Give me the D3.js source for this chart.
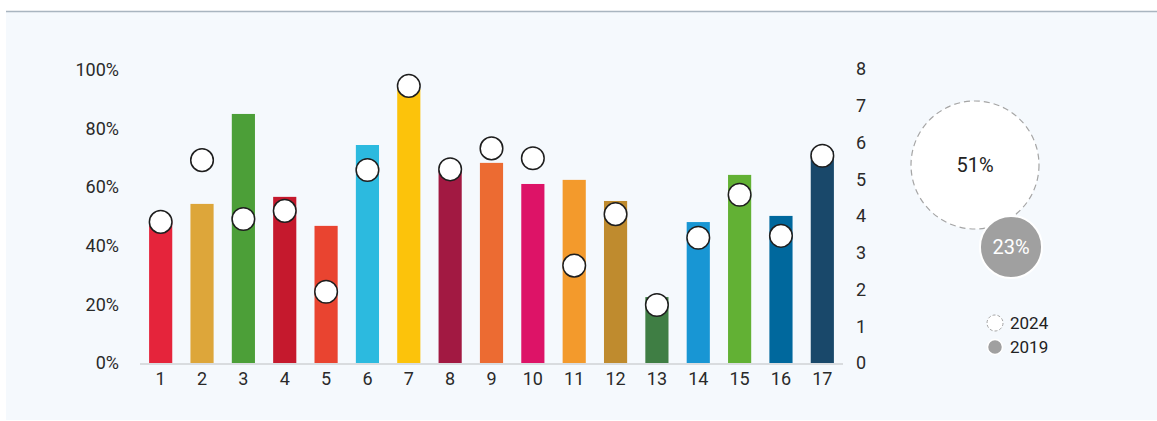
<!DOCTYPE html>
<html><head><meta charset="utf-8">
<script src="https://cdn.jsdelivr.net/npm/d3@7"></script>
<style>html,body{margin:0;padding:0;background:#fff;}svg{display:block;font-family:Roboto,"Noto Sans",sans-serif;}</style>
</head><body>
<svg id="chart" width="1157" height="421"></svg>
<script>
const categories = ["1","2","3","4","5","6","7","8","9","10","11","12","13","14","15","16","17"];
const barValues = [0.488,0.543,0.85,0.567,0.468,0.744,0.935,0.66,0.683,0.611,0.625,0.553,0.225,0.481,0.642,0.502,0.724];
const dotValues = [3.84,5.52,3.92,4.14,1.94,5.25,7.54,5.27,5.84,5.57,2.65,4.05,1.58,3.41,4.58,3.46,5.64];
const barColors = ["#e5243b","#dda63a","#4c9f38","#c5192d","#e94430","#2cbadf","#fcc30b","#a21942","#ec6b32","#dd1367","#f39a2c","#bf8b2e","#3f7e44","#1896d4","#62b134","#00689d","#19486a"];
const leftTicks = [0,0.2,0.4,0.6,0.8,1];
const rightTicks = [0,1,2,3,4,5,6,7,8];
const summaryYears = ["2024","2019"];
const summaryValues = [0.51,0.23];

const svg = d3.select("#chart");
// panel
svg.append("rect").attr("x",6).attr("y",12).attr("width",1151).attr("height",408).attr("fill","#f5f9fd");
svg.append("line").attr("x1",6).attr("x2",1157).attr("y1",11.5).attr("y2",11.5).attr("stroke","#a9b5c0").attr("stroke-width",1.6);

const x = d3.scaleBand().domain(categories).range([140,843]).paddingInner(0.44).paddingOuter(0.22);
const yL = d3.scaleLinear().domain([0,1]).range([363,70]);
const yR = d3.scaleLinear().domain([0,8]).range([363,69]);

const textColor = "#2a2a2a";
const fontSize = 18;

// bars
svg.append("g").selectAll("rect").data(barValues).join("rect")
  .attr("x",(d,i)=>x(categories[i]))
  .attr("width",x.bandwidth())
  .attr("y",d=>yL(d))
  .attr("height",d=>yL(0)-yL(d))
  .attr("fill",(d,i)=>barColors[i]);

// baseline
svg.append("line").attr("x1",140).attr("x2",843).attr("y1",364).attr("y2",364).attr("stroke","#d9dcdf").attr("stroke-width",2);

// left axis
const axL = svg.append("g").attr("transform","translate(119,0)")
  .call(d3.axisLeft(yL).tickValues(leftTicks).tickFormat(d3.format(".0%")).tickSize(0).tickPadding(0));
axL.select(".domain").remove();
axL.selectAll("text").attr("font-size",fontSize).attr("fill",textColor).attr("font-family","Roboto,sans-serif").attr("transform","scale(1,1)");

// right axis
const axR = svg.append("g").attr("transform","translate(856,0)")
  .call(d3.axisRight(yR).tickValues(rightTicks).tickFormat(d3.format("d")).tickSize(0).tickPadding(0));
axR.select(".domain").remove();
axR.selectAll("text").attr("font-size",fontSize).attr("fill",textColor).attr("font-family","Roboto,sans-serif");

// bottom axis
const axB = svg.append("g").attr("transform","translate(0,366)")
  .call(d3.axisBottom(x).tickSize(0).tickPadding(6));
axB.select(".domain").remove();
axB.selectAll("text").attr("font-size",fontSize).attr("fill",textColor).attr("font-family","Roboto,sans-serif");

// dots
svg.append("g").selectAll("circle").data(dotValues).join("circle")
  .attr("cx",(d,i)=>x(categories[i])+x.bandwidth()/2)
  .attr("cy",d=>yR(d))
  .attr("r",11.3)
  .attr("fill","#fff").attr("stroke","#1e1e1e").attr("stroke-width",1.5);

// summary bubbles
const rScale = d3.scaleSqrt().domain([0,0.51]).range([0,64]);
const big = {cx:975, cy:165};
const small = {cx:1011, cy:247};
svg.append("circle").attr("cx",big.cx).attr("cy",big.cy).attr("r",rScale(summaryValues[0]))
  .attr("fill","#fff").attr("stroke","#a5a5a5").attr("stroke-width",1.2).attr("stroke-dasharray","6,4");
svg.append("circle").attr("cx",small.cx).attr("cy",small.cy).attr("r",rScale(summaryValues[0])*0.485)
  .attr("fill","#a0a0a0").attr("stroke","#fff").attr("stroke-width",2);
svg.append("text").attr("x",big.cx).attr("y",big.cy).attr("dy","0.35em").attr("text-anchor","middle")
  .attr("font-size",20).attr("fill","#222").text(d3.format(".0%")(summaryValues[0]));
svg.append("text").attr("x",small.cx).attr("y",small.cy).attr("dy","0.35em").attr("text-anchor","middle")
  .attr("font-size",20).attr("fill","#fff").text(d3.format(".0%")(summaryValues[1]));

// legend
const lg = svg.append("g");
lg.append("circle").attr("cx",995).attr("cy",323).attr("r",8).attr("fill","#fff").attr("stroke","#a5a5a5").attr("stroke-width",1).attr("stroke-dasharray","3,2");
lg.append("circle").attr("cx",995).attr("cy",347).attr("r",7.5).attr("fill","#a0a0a0").attr("stroke","#fff").attr("stroke-width",1.5);
lg.selectAll("text").data(summaryYears).join("text")
  .attr("x",1010).attr("y",(d,i)=>323+i*24).attr("dy","0.35em")
  .attr("font-size",17).attr("fill","#222").text(d=>d);
</script>
</body></html>
